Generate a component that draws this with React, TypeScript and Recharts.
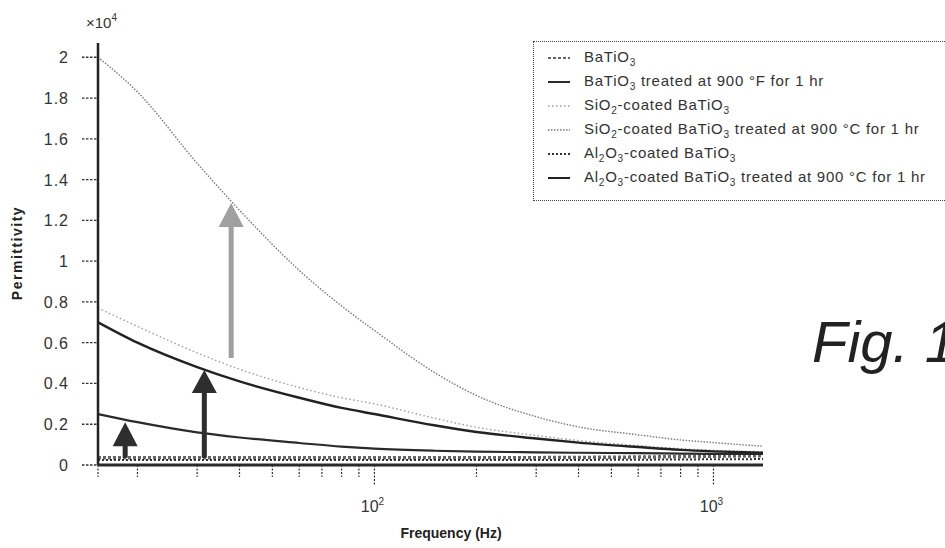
import React from 'react';
import { LineChart, Line, XAxis, YAxis, Legend, ReferenceLine } from 'recharts';

// frequency (Hz), log axis
const freq = [15.3, 20, 30, 40, 60, 80, 100, 150, 200, 300, 400, 600, 800, 1000, 1400];

// permittivity values in units of 1e4
const baTiO3 = [0.036, 0.036, 0.035, 0.035, 0.035, 0.035, 0.035, 0.035, 0.035, 0.036, 0.037, 0.039, 0.041, 0.043, 0.045];
const baTiO3Treated = [0.25, 0.21, 0.16, 0.135, 0.108, 0.09, 0.08, 0.07, 0.066, 0.062, 0.06, 0.058, 0.056, 0.055, 0.054];
const sio2Coated = [0.77, 0.68, 0.55, 0.47, 0.38, 0.33, 0.3, 0.23, 0.185, 0.145, 0.12, 0.095, 0.08, 0.072, 0.065];
const sio2Treated = [2.0, 1.83, 1.48, 1.25, 0.955, 0.78, 0.66, 0.455, 0.341, 0.237, 0.187, 0.148, 0.123, 0.11, 0.092];
const al2o3Coated = [0.025, 0.025, 0.024, 0.024, 0.024, 0.024, 0.024, 0.024, 0.024, 0.025, 0.025, 0.026, 0.027, 0.028, 0.029];
const al2o3Treated = [0.7, 0.6, 0.48, 0.41, 0.33, 0.28, 0.25, 0.195, 0.162, 0.13, 0.11, 0.088, 0.074, 0.067, 0.06];

const yTicks = [0, 0.2, 0.4, 0.6, 0.8, 1, 1.2, 1.4, 1.6, 1.8, 2];
const majorTicks = [100, 1000];
const xTicks = [15.3, 20, 30, 40, 50, 60, 70, 80, 90, 100, 200, 300, 400, 500, 600, 700, 800, 900, 1000];

// arrows: frequency, from, to (x1e4)
const arrows = [
  { f: 37.8, from: 0.525, to: 1.285, color: '#a0a0a0', head: 24 },
  { f: 31.5, from: 0.035, to: 0.466, color: '#2e2e2e', head: 23 },
  { f: 18.4, from: 0.035, to: 0.21, color: '#2e2e2e', head: 24 },
];

const series = [
  { key: 'baTiO3', name: 'BaTiO_3', values: baTiO3, color: '#666', width: 3.5, dash: '3 2' },
  { key: 'baTiO3Treated', name: 'BaTiO_3 treated at 900 °F for 1 hr', values: baTiO3Treated, color: '#2a2a2a', width: 2.2, dash: undefined },
  { key: 'sio2Coated', name: 'SiO_2-coated BaTiO_3', values: sio2Coated, color: '#9c9c9c', width: 1.4, dash: '1.5 2.5' },
  { key: 'sio2Treated', name: 'SiO_2-coated BaTiO_3 treated at 900 °C for 1 hr', values: sio2Treated, color: '#7a7a7a', width: 1.4, dash: '1.5 1.5' },
  { key: 'al2o3Coated', name: 'Al_2O_3-coated BaTiO_3', values: al2o3Coated, color: '#333', width: 2, dash: '2 2' },
  { key: 'al2o3Treated', name: 'Al_2O_3-coated BaTiO_3 treated at 900 °C for 1 hr', values: al2o3Treated, color: '#222', width: 2.4, dash: undefined },
];

const data = freq.map((f, i) => {
  const row: any = { f };
  series.forEach((s) => { row[s.key] = s.values[i]; });
  return row;
});

const font = '"Liberation Sans", Arial, sans-serif';

// turns "BaTiO_3" into BaTiO<sub>3</sub>
const withSubs = (label: string) =>
  label.split(/(_\d)/).map((part, i) =>
    part.startsWith('_')
      ? <sub key={i} style={{ fontSize: 10, verticalAlign: -4 }}>{part.slice(1)}</sub>
      : <span key={i}>{part}</span>
  );

const XTick = (props: any) => {
  const { x, y, payload } = props;
  const major = majorTicks.includes(payload.value);
  return (
    <g>
      <line x1={x} x2={x} y1={y} y2={y + (major ? 20 : 12)} stroke="#333" strokeWidth={1.2} strokeDasharray="2 1.5" />
      {major && (
        <text x={x - 2} y={y + 47} textAnchor="middle" fontSize={16} fill="#333" fontFamily={font}>
          10<tspan dy={-7} fontSize={10}>{Math.round(Math.log10(payload.value))}</tspan>
        </text>
      )}
    </g>
  );
};

const YTick = (props: any) => {
  const { x, y, payload } = props;
  return (
    <g>
      <line x1={x - 16} x2={x} y1={y} y2={y} stroke="#333" strokeWidth={1.3} strokeDasharray="2.5 1.5" />
      <text x={x - 29} y={y + 6} textAnchor="end" fontSize={16} letterSpacing={1} fill="#333" fontFamily={font}>
        {payload.value}
      </text>
    </g>
  );
};

const Arrow = (color: string, head: number) => (props: any) => {
  const { x1, y1, y2 } = props;
  const top = Math.min(y1, y2);
  const bottom = Math.max(y1, y2);
  return (
    <g>
      <rect x={x1 - 2.5} y={top + head - 1} width={5} height={bottom - top - head + 1} fill={color} />
      <polygon points={`${x1},${top} ${x1 - 12.5},${top + head} ${x1 + 12.5},${top + head}`} fill={color} />
    </g>
  );
};

const LegendBox = () => (
  <div style={{ border: '1.5px dotted #444', width: 420, height: 160, boxSizing: 'border-box', padding: '4px 0 0 14px', fontFamily: font, fontSize: 15, letterSpacing: 0.75, color: '#333' }}>
    {series.map((s) => (
      <div key={s.key} style={{ display: 'flex', alignItems: 'center', height: 24 }}>
        <svg width={22} height={10} style={{ marginRight: 14 }}>
          <line x1={0} x2={22} y1={5} y2={5} stroke={s.color} strokeWidth={Math.min(s.width, 2)} strokeDasharray={s.dash} />
        </svg>
        <span>{withSubs(s.name)}</span>
      </div>
    ))}
  </div>
);

export default function App() {
  return (
    <div style={{ position: 'absolute', left: 0, top: 0, width: 945, height: 548, background: '#fff' }}>
      <LineChart width={945} height={548} data={data} margin={{ top: 43, right: 182, left: 0, bottom: 0 }}>
        <XAxis
          dataKey="f"
          type="number"
          scale="log"
          domain={[15.3, 1400]}
          ticks={xTicks}
          tick={<XTick />}
          tickSize={0}
          tickMargin={0}
          height={83}
          allowDataOverflow
          axisLine={{ stroke: '#2a2a2a', strokeWidth: 3 }}
          interval={0}
        />
        <YAxis
          type="number"
          domain={[0, 2.07]}
          ticks={yTicks}
          tick={<YTick />}
          tickSize={0}
          tickMargin={0}
          width={98}
          allowDataOverflow
          axisLine={{ stroke: '#222', strokeWidth: 2.5 }}
          interval={0}
        />
        {series.map((s) => (
          <Line
            key={s.key}
            dataKey={s.key}
            type="monotone"
            stroke={s.color}
            strokeWidth={s.width}
            strokeDasharray={s.dash}
            dot={false}
            activeDot={false}
            isAnimationActive={false}
          />
        ))}
        {arrows.map((a, i) => (
          <ReferenceLine
            key={i}
            segment={[{ x: a.f, y: a.from }, { x: a.f, y: a.to }]}
            shape={Arrow(a.color, a.head)}
          />
        ))}
        <Legend
          layout="vertical"
          align="center"
          verticalAlign="middle"
          content={<LegendBox />}
          wrapperStyle={{ left: 533, top: 41, width: 420 }}
        />
      </LineChart>
      <svg width={945} height={548} style={{ position: 'absolute', left: 0, top: 0, pointerEvents: 'none', overflow: 'hidden' }}>
        <text x={86} y={28} fontSize={15} fill="#333" fontFamily={font}>
          ×10<tspan dy={-7} fontSize={10}>4</tspan>
        </text>
        <text x={17} y={253} transform="rotate(-90 17 253)" textAnchor="middle" dominantBaseline="central" fontSize={14} fontWeight="bold" letterSpacing={1.5} fill="#222" fontFamily={font}>
          Permittivity
        </text>
        <text x={451} y={538} textAnchor="middle" fontSize={14} fontWeight="bold" fill="#222" fontFamily={font}>
          Frequency (Hz)
        </text>
        <text x={812} y={362} fontSize={58} fontStyle="italic" fill="#222" fontFamily={font}>
          Fig. 1
        </text>
      </svg>
    </div>
  );
}
